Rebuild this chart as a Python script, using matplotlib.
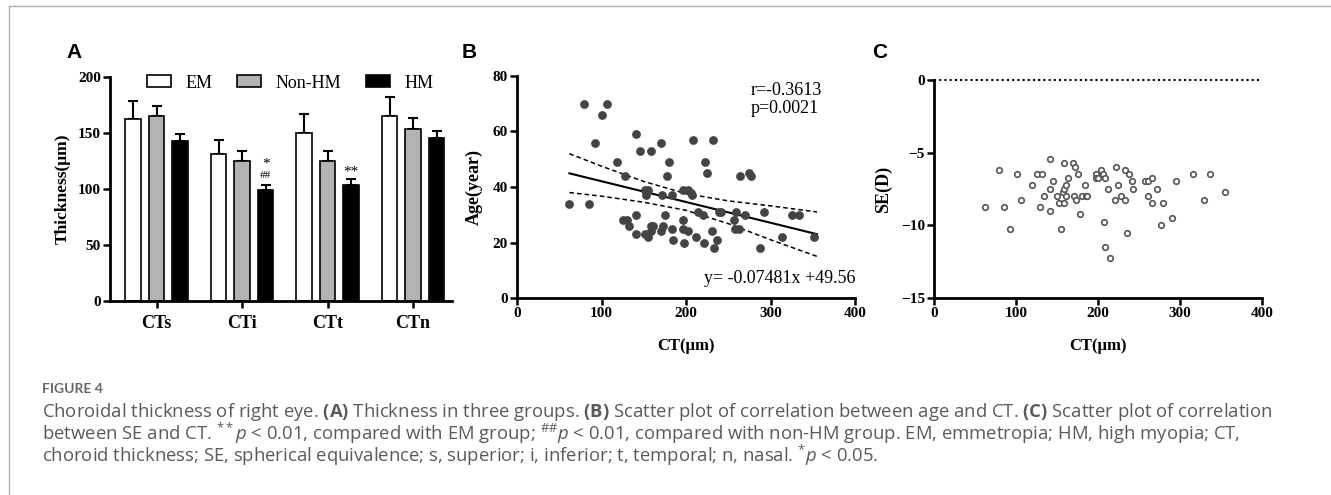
import numpy as np
import matplotlib
matplotlib.use('Agg')
import matplotlib.pyplot as plt
from matplotlib.lines import Line2D

plt.rcParams['font.family'] = 'Liberation Serif'
plt.rcParams['mathtext.fontset'] = 'custom'
plt.rcParams['mathtext.rm'] = 'Open Sans'
plt.rcParams['mathtext.it'] = 'Open Sans:italic'
plt.rcParams['mathtext.bf'] = 'Open Sans:bold'

# panel A: mean thickness and SD per region
regions = ['CTs', 'CTi', 'CTt', 'CTn']
groups = ['EM', 'Non-HM', 'HM']
em_mean = [162.7, 131.4, 150.0, 165.4]
em_sd = [15.5, 12.6, 17.0, 16.4]
nonhm_mean = [164.8, 124.6, 124.6, 153.8]
nonhm_sd = [9.6, 8.9, 8.9, 9.5]
hm_mean = [143.0, 99.3, 103.4, 145.8]
hm_sd = [6.3, 4.4, 5.6, 5.6]

# panel B: CT vs age
age_ct = [62, 85, 79, 106, 101, 92, 118, 128, 141, 145, 159, 170, 180, 177, 151, 155, 153, 172, 183, 175,
          141, 126, 130, 133, 141, 151, 155, 158, 161, 159, 170, 173, 183, 185, 197, 196, 202, 198, 196, 202,
          206, 207, 208, 212, 214, 220, 221, 222, 225, 232, 231, 233, 237, 239, 242, 257, 259, 258, 263, 264,
          275, 277, 270, 292, 288, 314, 325, 334, 352]
age = [34, 34, 70, 70, 66, 56, 49, 44, 59, 53, 53, 56, 49, 44, 39, 39, 37, 37, 37, 30,
       30, 28, 28, 26, 23, 23, 22, 26, 26, 24, 24, 26, 25, 21, 28, 25, 24, 20, 39, 39,
       38, 37, 57, 22, 31, 30, 20, 49, 45, 57, 24, 18, 21, 31, 31, 28, 31, 25, 25, 44,
       45, 44, 30, 31, 18, 22, 30, 30, 22]
slope, intercept = -0.07481, 49.56
fit_x = [62, 355]
band_x = [62, 100, 150, 200, 250, 300, 355]
band_hi = [52.0, 47.5, 42.0, 37.6, 35.0, 33.2, 31.0]
band_lo = [38.0, 36.7, 34.5, 31.6, 26.8, 21.0, 15.0]

# panel C: CT vs SE
se_ct = [62, 79, 85, 93, 101, 106, 119, 126, 132, 129, 134, 142, 142, 142, 145, 150, 153, 155, 157, 158,
         158, 159, 161, 161, 163, 170, 172, 171, 173, 176, 178, 181, 184, 185, 187, 197, 198, 200, 204, 206,
         207, 209, 209, 212, 215, 221, 222, 224, 228, 233, 233, 235, 238, 241, 243, 257, 261, 261, 266, 266,
         272, 277, 279, 290, 295, 316, 329, 336, 355]
se = [-8.74, -6.2, -8.74, -10.25, -6.47, -8.23, -7.22, -6.47, -6.47, -8.74, -7.98, -5.46, -7.48, -8.99, -6.97,
      -7.98, -8.49, -10.25, -7.71, -5.73, -8.49, -7.48, -7.22, -7.98, -6.72, -5.73, -5.96, -7.98, -8.23, -6.47,
      -9.24, -7.98, -7.22, -7.98, -7.98, -6.47, -6.72, -6.72, -6.2, -6.47, -9.77, -6.72, -11.49, -7.48, -12.27,
      -8.23, -5.96, -7.22, -7.98, -6.2, -8.23, -10.5, -6.47, -6.97, -7.48, -6.97, -6.97, -7.98, -6.72, -8.49,
      -7.48, -10.0, -8.49, -9.5, -6.97, -6.47, -8.23, -6.47, -7.73]

W, H = 1331, 495
fig = plt.figure(figsize=(W / 100, H / 100), dpi=100)


def box(l, r, t, b):
    return [l / W, 1 - b / H, (r - l) / W, (b - t) / H]


def style(ax):
    for s in ['top', 'right']:
        ax.spines[s].set_visible(False)
    for s in ['left', 'bottom']:
        ax.spines[s].set_linewidth(2)
    ax.tick_params(width=1.8, length=5, labelsize=11, pad=1.5)
    for lab in ax.get_xticklabels() + ax.get_yticklabels():
        lab.set_fontweight('bold')


# ---- A
axA = fig.add_axes(box(110, 452, 77, 301))
x = np.arange(len(regions))
off, w = 0.275, 0.18
colors = ['white', '#b3b3b3', 'black']
for i, (m, sd) in enumerate([(em_mean, em_sd), (nonhm_mean, nonhm_sd), (hm_mean, hm_sd)]):
    xs = x + (i - 1) * off
    axA.bar(xs, m, width=w, color=colors[i], edgecolor='black', linewidth=1.2, label=groups[i], zorder=2)
    axA.errorbar(xs, m, yerr=[np.zeros(len(sd)), sd], fmt='none', ecolor='black',
                 elinewidth=1.5, capsize=3.5, capthick=1.5, zorder=1)
axA.set_xlim(-0.546, 3.456)
axA.set_ylim(0, 200)
axA.set_yticks([0, 50, 100, 150, 200])
axA.set_xticks(x)
axA.set_xticklabels(regions)
axA.set_ylabel('Thickness(μm)', fontsize=12.5, fontweight='bold', labelpad=5)
style(axA)
axA.tick_params(axis='x', labelsize=13, pad=5)
axA.text(1 + off, 122, '*', ha='center', va='center', fontsize=11)
axA.text(1 + off, 112.5, '##', ha='center', va='center', fontsize=8)
axA.text(2 + off, 115, '**', ha='center', va='center', fontsize=11)
axA.legend(loc='center left', bbox_to_anchor=(147 / W, 1 - 83 / H), bbox_transform=fig.transFigure,
           ncol=3, frameon=False, fontsize=13, borderpad=0, borderaxespad=0,
           handlelength=1.33, handleheight=0.67, columnspacing=1.4, handletextpad=0.78)

# ---- B
axB = fig.add_axes(box(517, 855, 76, 298))
axB.scatter(age_ct, age, s=28, color='#444444', zorder=3)
fx = np.array(fit_x)
axB.plot(fx, slope * fx + intercept, color='black', lw=1.5)
axB.plot(band_x, band_hi, color='black', lw=1.1, ls=(0, (3, 2)))
axB.plot(band_x, band_lo, color='black', lw=1.1, ls=(0, (3, 2)))
axB.set_xlim(0, 400)
axB.set_ylim(0, 80)
axB.set_xticks([0, 100, 200, 300, 400])
axB.set_yticks([0, 20, 40, 60, 80])
axB.set_xlabel('CT(μm)', fontsize=12, fontweight='bold', labelpad=13)
axB.set_ylabel('Age(year)', fontsize=13, fontweight='bold', labelpad=7)
style(axB)
axB.text(0.69, 0.975, 'r=-0.3613\np=0.0021', transform=axB.transAxes, fontsize=13, va='top',
         linespacing=1.1)
axB.text(1.0, 0.09, 'y= -0.07481x +49.56', transform=axB.transAxes, fontsize=13, ha='right', va='center')

# ---- C
axC = fig.add_axes(box(934, 1262, 80, 298))
axC.scatter(se_ct, se, s=16, facecolors='white', edgecolors='#555555', linewidths=1.2, zorder=3)
axC.axhline(0, color='black', lw=1.5, ls=(0, (1, 1.5)), clip_on=False)
axC.set_xlim(0, 400)
axC.set_ylim(-15, 0)
axC.set_xticks([0, 100, 200, 300, 400])
axC.set_yticks([0, -5, -10, -15])
axC.set_xlabel('CT(μm)', fontsize=12, fontweight='bold', labelpad=13)
axC.set_ylabel('SE(D)', fontsize=13, fontweight='bold', labelpad=6)
style(axC)

# panel letters
for lbl, px in [('A', 74), ('B', 469), ('C', 880)]:
    fig.text(px / W, 1 - 53 / H, lbl, family='Liberation Sans', fontweight='bold', fontsize=15,
             ha='center', va='center')

# page frame
fig.add_artist(Line2D([9 / W, 1], [1 - 6 / H, 1 - 6 / H], color='#b0b0b0', lw=1))
fig.add_artist(Line2D([9 / W, 9 / W], [0, 1 - 6 / H], color='#b0b0b0', lw=1))

# caption
cap_color = '#5a5a5a'
fig.text(42 / W, 1 - 389 / H, 'FIGURE 4', family='Lato', fontweight='bold', fontsize=10,
         color='#666666', va='center')
caption = (
    r'Choroidal thickness of right eye. $\mathbf{(A)}$ Thickness in three groups. $\mathbf{(B)}$ Scatter plot of '
    r'correlation between age and CT. $\mathbf{(C)}$ Scatter plot of correlation' '\n'
    r'between SE and CT. $^{**}\mathit{p}$ < 0.01, compared with EM group; $^{\#\#}\mathit{p}$ < 0.01, compared '
    r'with non-HM group. EM, emmetropia; HM, high myopia; CT,' '\n'
    r'choroid thickness; SE, spherical equivalence; s, superior; i, inferior; t, temporal; n, nasal. '
    r'$^{*}\mathit{p}$ < 0.05.'
)
fig.text(42 / W, 1 - 401 / H, caption, family='Open Sans', fontsize=13.3, color=cap_color,
         va='top', linespacing=0.86)

fig.savefig('out.png', dpi=100)
